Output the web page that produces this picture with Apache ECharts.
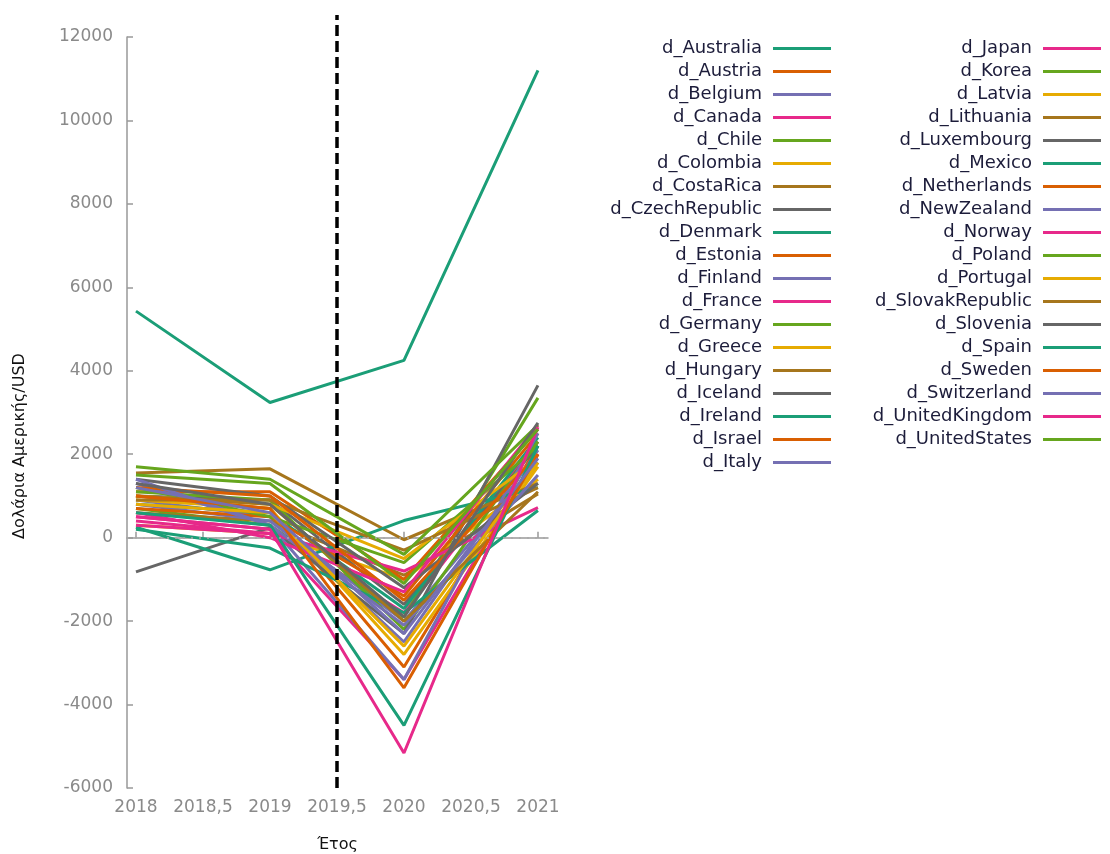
<!DOCTYPE html>
<html>
<head>
<meta charset="utf-8">
<script src="https://cdn.jsdelivr.net/npm/echarts@6/dist/echarts.min.js"></script>
<style>html,body{margin:0;padding:0;background:#fff;}#chart{width:1110px;height:854px;}</style>
</head>
<body>
<div id="chart"></div>
<script>
const years = [2018, 2019, 2020, 2021];
const xTicks = [2018, 2018.5, 2019, 2019.5, 2020, 2020.5, 2021];
const yTicks = [-6000, -4000, -2000, 0, 2000, 4000, 6000, 8000, 10000, 12000];
const marker = 2019.5;

const d_Australia      = [5430, 3240, 4250, 11200];
const d_Austria        = [1000, 700, -3100, 2200];
const d_Belgium        = [900, 500, -2500, 2100];
const d_Canada         = [500, 200, -1800, 2300];
const d_Chile          = [700, 300, -1900, 3350];
const d_Colombia       = [300, 100, -1000, 1400];
const d_CostaRica      = [600, 400, -900, 1050];
const d_CzechRepublic  = [1000, 900, -1600, 2200];
const d_Denmark        = [800, 600, -1700, 2400];
const d_Estonia        = [1100, 1100, -1000, 2600];
const d_Finland        = [800, 400, -2000, 1800];
const d_France         = [400, 100, -3400, 2000];
const d_Germany        = [1100, 900, -2200, 2300];
const d_Greece         = [900, 700, -2800, 1700];
const d_Hungary        = [1550, 1650, -50, 1300];
const d_Iceland        = [-820, 240, -2300, 3650];
const d_Ireland        = [250, -770, 410, 1200];
const d_Israel         = [700, 500, -1400, 2500];
const d_Italy          = [1300, 300, -3400, 2500];
const d_Japan          = [300, 100, -800, 720];
const d_Korea          = [1200, 500, -600, 2200];
const d_Latvia         = [1000, 800, -500, 1900];
const d_Lithuania      = [900, 900, -300, 1200];
const d_Luxembourg     = [1400, 1000, -1200, 1300];
const d_Mexico         = [200, -250, -1800, 650];
const d_Netherlands    = [1200, 1000, -1500, 2000];
const d_NewZealand     = [1400, 300, -2100, 1500];
const d_Norway         = [600, 0, -1300, 2700];
const d_Poland         = [1700, 1400, -400, 2700];
const d_Portugal       = [800, 600, -2600, 1800];
const d_SlovakRepublic = [1000, 800, -2000, 1100];
const d_Slovenia       = [1300, 800, -1900, 2750];
const d_Spain          = [600, 300, -4500, 2200];
const d_Sweden         = [1000, 700, -3600, 2000];
const d_Switzerland    = [1200, 600, -2300, 1900];
const d_UnitedKingdom  = [500, 200, -5160, 2650];
const d_UnitedStates   = [1500, 1300, -1100, 2600];

const seriesList = [
  ['d_Australia', d_Australia], ['d_Austria', d_Austria], ['d_Belgium', d_Belgium],
  ['d_Canada', d_Canada], ['d_Chile', d_Chile], ['d_Colombia', d_Colombia],
  ['d_CostaRica', d_CostaRica], ['d_CzechRepublic', d_CzechRepublic], ['d_Denmark', d_Denmark],
  ['d_Estonia', d_Estonia], ['d_Finland', d_Finland], ['d_France', d_France],
  ['d_Germany', d_Germany], ['d_Greece', d_Greece], ['d_Hungary', d_Hungary],
  ['d_Iceland', d_Iceland], ['d_Ireland', d_Ireland], ['d_Israel', d_Israel],
  ['d_Italy', d_Italy], ['d_Japan', d_Japan], ['d_Korea', d_Korea],
  ['d_Latvia', d_Latvia], ['d_Lithuania', d_Lithuania], ['d_Luxembourg', d_Luxembourg],
  ['d_Mexico', d_Mexico], ['d_Netherlands', d_Netherlands], ['d_NewZealand', d_NewZealand],
  ['d_Norway', d_Norway], ['d_Poland', d_Poland], ['d_Portugal', d_Portugal],
  ['d_SlovakRepublic', d_SlovakRepublic], ['d_Slovenia', d_Slovenia], ['d_Spain', d_Spain],
  ['d_Sweden', d_Sweden], ['d_Switzerland', d_Switzerland], ['d_UnitedKingdom', d_UnitedKingdom],
  ['d_UnitedStates', d_UnitedStates]
];

const palette = ['#1b9e77','#d95f02','#7570b3','#e7298a','#66a61e','#e6ab02','#a6761d','#666666'];
const names = seriesList.map(s => s[0]);
const font = 'DejaVu Sans, Verdana, sans-serif';
const axisGray = '#999999';
const labelGray = '#8a8a8a';

const series = seriesList.map(([name, vals], i) => ({
  name: name,
  type: 'line',
  xAxisIndex: 0, yAxisIndex: 0,
  data: years.map((y, j) => [y, vals[j]]),
  showSymbol: false,
  symbol: 'none',
  lineStyle: { width: 3, color: palette[i % 8] },
  itemStyle: { color: palette[i % 8] },
  silent: true,
  animation: false,
  markLine: i === 0 ? {
    silent: true, symbol: 'none', label: { show: false },
    lineStyle: { color: '#aaaaaa', type: [2, 6], width: 1.5 },
    data: [{ yAxis: 0 }]
  } : undefined
}));

series.push({
  name: 'marker', type: 'line', xAxisIndex: 1, yAxisIndex: 1, data: [],
  animation: false,
  markLine: {
    silent: true, symbol: 'none', label: { show: false }, animation: false,
    lineStyle: { color: '#000', type: [11, 5], width: 3.5 },
    data: [{ xAxis: marker }]
  }
});

const legendBase = {
  orient: 'vertical', align: 'right', top: 32, itemGap: 0,
  itemWidth: 58, itemHeight: 3, icon: 'rect',
  selectedMode: false,
  textStyle: { fontFamily: font, fontSize: 18, color: '#1c1c3a', lineHeight: 23, padding: [0, 6, 0, 0] }
};

const xMin = 2017.933, xMax = 2021.075;

const option = {
  animation: false,
  color: palette,
  grid: [
    { left: 127, right: 562, top: 37, bottom: 66, outerBoundsMode: 'none', containLabel: false },
    { left: 127, right: 562, top: 15, bottom: 66, outerBoundsMode: 'none', containLabel: false }
  ],
  legend: [
    Object.assign({}, legendBase, { data: names.slice(0, 19), right: 274 }),
    Object.assign({}, legendBase, { data: names.slice(19), right: 4 })
  ],
  xAxis: [{
    type: 'value', gridIndex: 0, min: xMin, max: xMax,
    name: 'Έτος', nameLocation: 'middle', nameGap: 49,
    nameTextStyle: { fontFamily: font, fontSize: 16, color: '#111' },
    axisLine: { show: true, lineStyle: { color: axisGray, width: 1.5 } },
    axisTick: { show: true, inside: true, length: 6, customValues: xTicks, lineStyle: { color: axisGray, width: 1.5 } },
    axisLabel: { customValues: xTicks, margin: 11, fontFamily: font, fontSize: 17, color: labelGray,
      formatter: v => String(v).replace('.', ',') },
    splitLine: { show: false }
  }, {
    type: 'value', gridIndex: 1, min: xMin, max: xMax, show: false
  }],
  yAxis: [{
    type: 'value', gridIndex: 0, min: -6000, max: 12000, interval: 2000,
    axisLine: { show: true, lineStyle: { color: axisGray, width: 1.5 } },
    axisTick: { show: true, inside: true, length: 6, lineStyle: { color: axisGray, width: 1.5 } },
    axisLabel: { margin: 14, fontFamily: font, fontSize: 17, color: labelGray,
      formatter: v => String(v) },
    splitLine: { show: false }
  }, {
    type: 'value', gridIndex: 1, min: -6000, max: 12000, show: false
  }],
  graphic: [{
    type: 'text', x: 20, y: 446, rotation: Math.PI / 2,
    style: { text: 'Δολάρια Αμερικής/USD', fontFamily: font, fontSize: 16, fill: '#111',
      align: 'center', verticalAlign: 'middle' }
  }],
  series: series
};

const chart = echarts.init(document.getElementById('chart'), null, { renderer: 'canvas' });
chart.setOption(option);
</script>
</body>
</html>
